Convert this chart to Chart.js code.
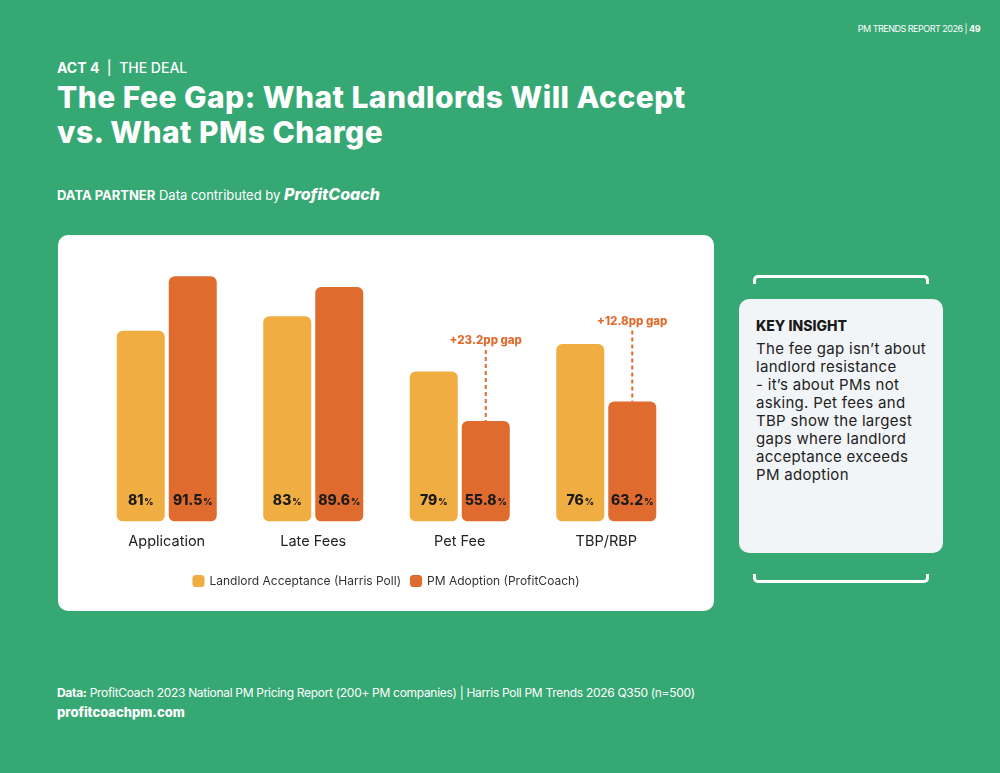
<!DOCTYPE html>
<html>
<head>
<meta charset="utf-8">
<script src="https://cdn.jsdelivr.net/npm/chart.js@4.4.1/dist/chart.umd.min.js"></script>
<style>
  html, body { margin: 0; padding: 0; }
  body {
    width: 1000px; height: 773px; position: relative; overflow: hidden;
    background: #36a873; color: #fff;
    font-family: Inter, "Open Sans", sans-serif;
  }
  .abs { position: absolute; white-space: nowrap; }
  #report { right: 20px; top: 23px; font-size: 9px; letter-spacing: -0.5px; }
  #act { left: 57px; top: 59px; font-size: 14px; font-weight: 500; }
  #title { left: 57px; top: 80px; font-size: 30px; font-weight: 800; line-height: 35px; letter-spacing: 0.45px; }
  #partner { left: 57px; top: 184px; font-size: 13px; }
  #partner i { font-size: 16px; font-weight: 800; }
  #card {
    left: 58px; top: 235px; width: 656px; height: 376px;
    background: #fff; border-radius: 10px;
  }
  #chart { position: absolute; left: 0; top: 0; }
  .bracket {
    left: 753px; width: 170px; height: 6px; border: 3px solid #fff;
  }
  #bTop { top: 275px; border-bottom: none; border-radius: 5px 5px 0 0; }
  #bBot { top: 574px; border-top: none; border-radius: 0 0 5px 5px; }
  #insight {
    left: 739px; top: 299px; width: 204px; height: 254px;
    background: #f2f5f7; border-radius: 10px; color: #222;
  }
  #insight h3 { margin: 0; position: absolute; left: 17px; top: 18px; font-size: 14px; font-weight: 800; color: #1a1a1a; }
  #insight p { margin: 0; position: absolute; left: 17px; top: 41px; font-size: 15px; line-height: 18px; letter-spacing: 0.3px; }
  #source { left: 57px; top: 685px; font-size: 12px; letter-spacing: -0.3px; }
  #site { left: 57px; top: 704px; font-size: 13px; font-weight: 800; }
</style>
</head>
<body>
<div class="abs" id="report">PM TRENDS REPORT 2026 | <b>49</b></div>
<div class="abs" id="act"><b>ACT 4</b> &nbsp;|&nbsp; THE DEAL</div>
<div class="abs" id="title">The Fee Gap: What Landlords Will Accept<br>vs. What PMs Charge</div>
<div class="abs" id="partner"><b>DATA PARTNER</b> Data contributed by <i>ProfitCoach</i></div>

<div class="abs" id="card"><canvas id="chart" width="656" height="376"></canvas></div>

<div class="abs bracket" id="bTop"></div>
<div class="abs" id="insight">
  <h3>KEY INSIGHT</h3>
  <p>The fee gap isn’t about<br>landlord resistance<br>- it’s about PMs not<br>asking. Pet fees and<br>TBP show the largest<br>gaps where landlord<br>acceptance exceeds<br>PM adoption</p>
</div>
<div class="abs bracket" id="bBot"></div>

<div class="abs" id="source"><b>Data:</b> ProfitCoach 2023 National PM Pricing Report (200+ PM companies) | Harris Poll PM Trends 2026 Q350 (n=500)</div>
<div class="abs" id="site">profitcoachpm.com</div>

<script>
// categories and printed values
const categories = ['Application', 'Late Fees', 'Pet Fee', 'TBP/RBP'];
const landlordPct = ['81', '83', '79', '76'];
const pmPct = ['91.5', '89.6', '55.8', '63.2'];
// bar heights as drawn in the picture (0-100 of plot height)
const landlordBar = [69, 74.2, 54.3, 64.2];
const pmBar = [88.7, 84.8, 36.4, 43.4];
// gap notes per category (null = none)
const gapNotes = [null, null, '+23.2pp gap', '+12.8pp gap'];

const YELLOW = '#f0ae42';
const ORANGE = '#e06b2f';
const FONT = 'Inter, "Open Sans", sans-serif';

Chart.defaults.font.family = FONT;

// value labels near the bottom of each bar, with a small % sign
const valueLabels = {
    id: 'valueLabels',
    afterDatasetsDraw(chart) {
        const ctx = chart.ctx;
        const texts = [landlordPct, pmPct];
        ctx.save();
        ctx.fillStyle = '#1a1a1a';
        ctx.textBaseline = 'middle';
        chart.data.datasets.forEach((ds, di) => {
            chart.getDatasetMeta(di).data.forEach((bar, i) => {
                const num = texts[di][i];
                ctx.font = '800 14px ' + FONT;
                const w1 = ctx.measureText(num).width;
                ctx.font = '800 9px ' + FONT;
                const w2 = ctx.measureText('%').width;
                const x0 = bar.x - (w1 + w2 + 1) / 2;
                const y = bar.base - 21;
                ctx.font = '800 14px ' + FONT;
                ctx.textAlign = 'left';
                ctx.fillText(num, x0, y);
                ctx.font = '800 9px ' + FONT;
                ctx.fillText('%', x0 + w1 + 1, y + 2);
            });
        });
        ctx.restore();
    }
};

// dashed gap markers above the PM bars
const gapMarks = {
    id: 'gapMarks',
    afterDatasetsDraw(chart) {
        const ctx = chart.ctx;
        const bars = chart.getDatasetMeta(1).data;
        ctx.save();
        gapNotes.forEach((note, i) => {
            if (!note) return;
            const bar = bars[i];
            const ty = bar.y - 80;
            ctx.strokeStyle = ORANGE;
            ctx.lineWidth = 2;
            ctx.setLineDash([4, 3]);
            ctx.beginPath();
            ctx.moveTo(bar.x, ty + 9);
            ctx.lineTo(bar.x, bar.y);
            ctx.stroke();
            ctx.fillStyle = ORANGE;
            ctx.font = '800 11.5px ' + FONT;
            ctx.textAlign = 'center';
            ctx.textBaseline = 'middle';
            ctx.fillText(note, bar.x, ty);
        });
        ctx.restore();
    }
};

new Chart(document.getElementById('chart').getContext('2d'), {
    type: 'bar',
    data: {
        labels: categories,
        datasets: [{
            label: 'Landlord Acceptance (Harris Poll)',
            data: landlordBar,
            backgroundColor: YELLOW
        }, {
            label: 'PM Adoption (ProfitCoach)',
            data: pmBar,
            backgroundColor: ORANGE
        }]
    },
    options: {
        responsive: false,
        animation: false,
        devicePixelRatio: 1,
        layout: { padding: { left: 35.5, right: 34.5, top: 10, bottom: 14 } },
        datasets: {
            bar: {
                borderRadius: 6,
                borderSkipped: false,
                categoryPercentage: 0.71,
                barPercentage: 0.923
            }
        },
        scales: {
            x: {
                grid: { display: false },
                border: { display: false },
                ticks: { color: '#222', font: { size: 14.5 }, padding: 3 },
                afterFit(scale) { scale.height += 12; }
            },
            y: {
                display: false,
                min: 0,
                max: 100
            }
        },
        plugins: {
            tooltip: { enabled: false },
            legend: {
                position: 'bottom',
                labels: {
                    usePointStyle: true,
                    pointStyle: 'rectRounded',
                    boxWidth: 10,
                    boxHeight: 10,
                    padding: 10,
                    color: '#333',
                    font: { size: 12 }
                }
            }
        }
    },
    plugins: [valueLabels, gapMarks]
});
</script>
</body>
</html>
